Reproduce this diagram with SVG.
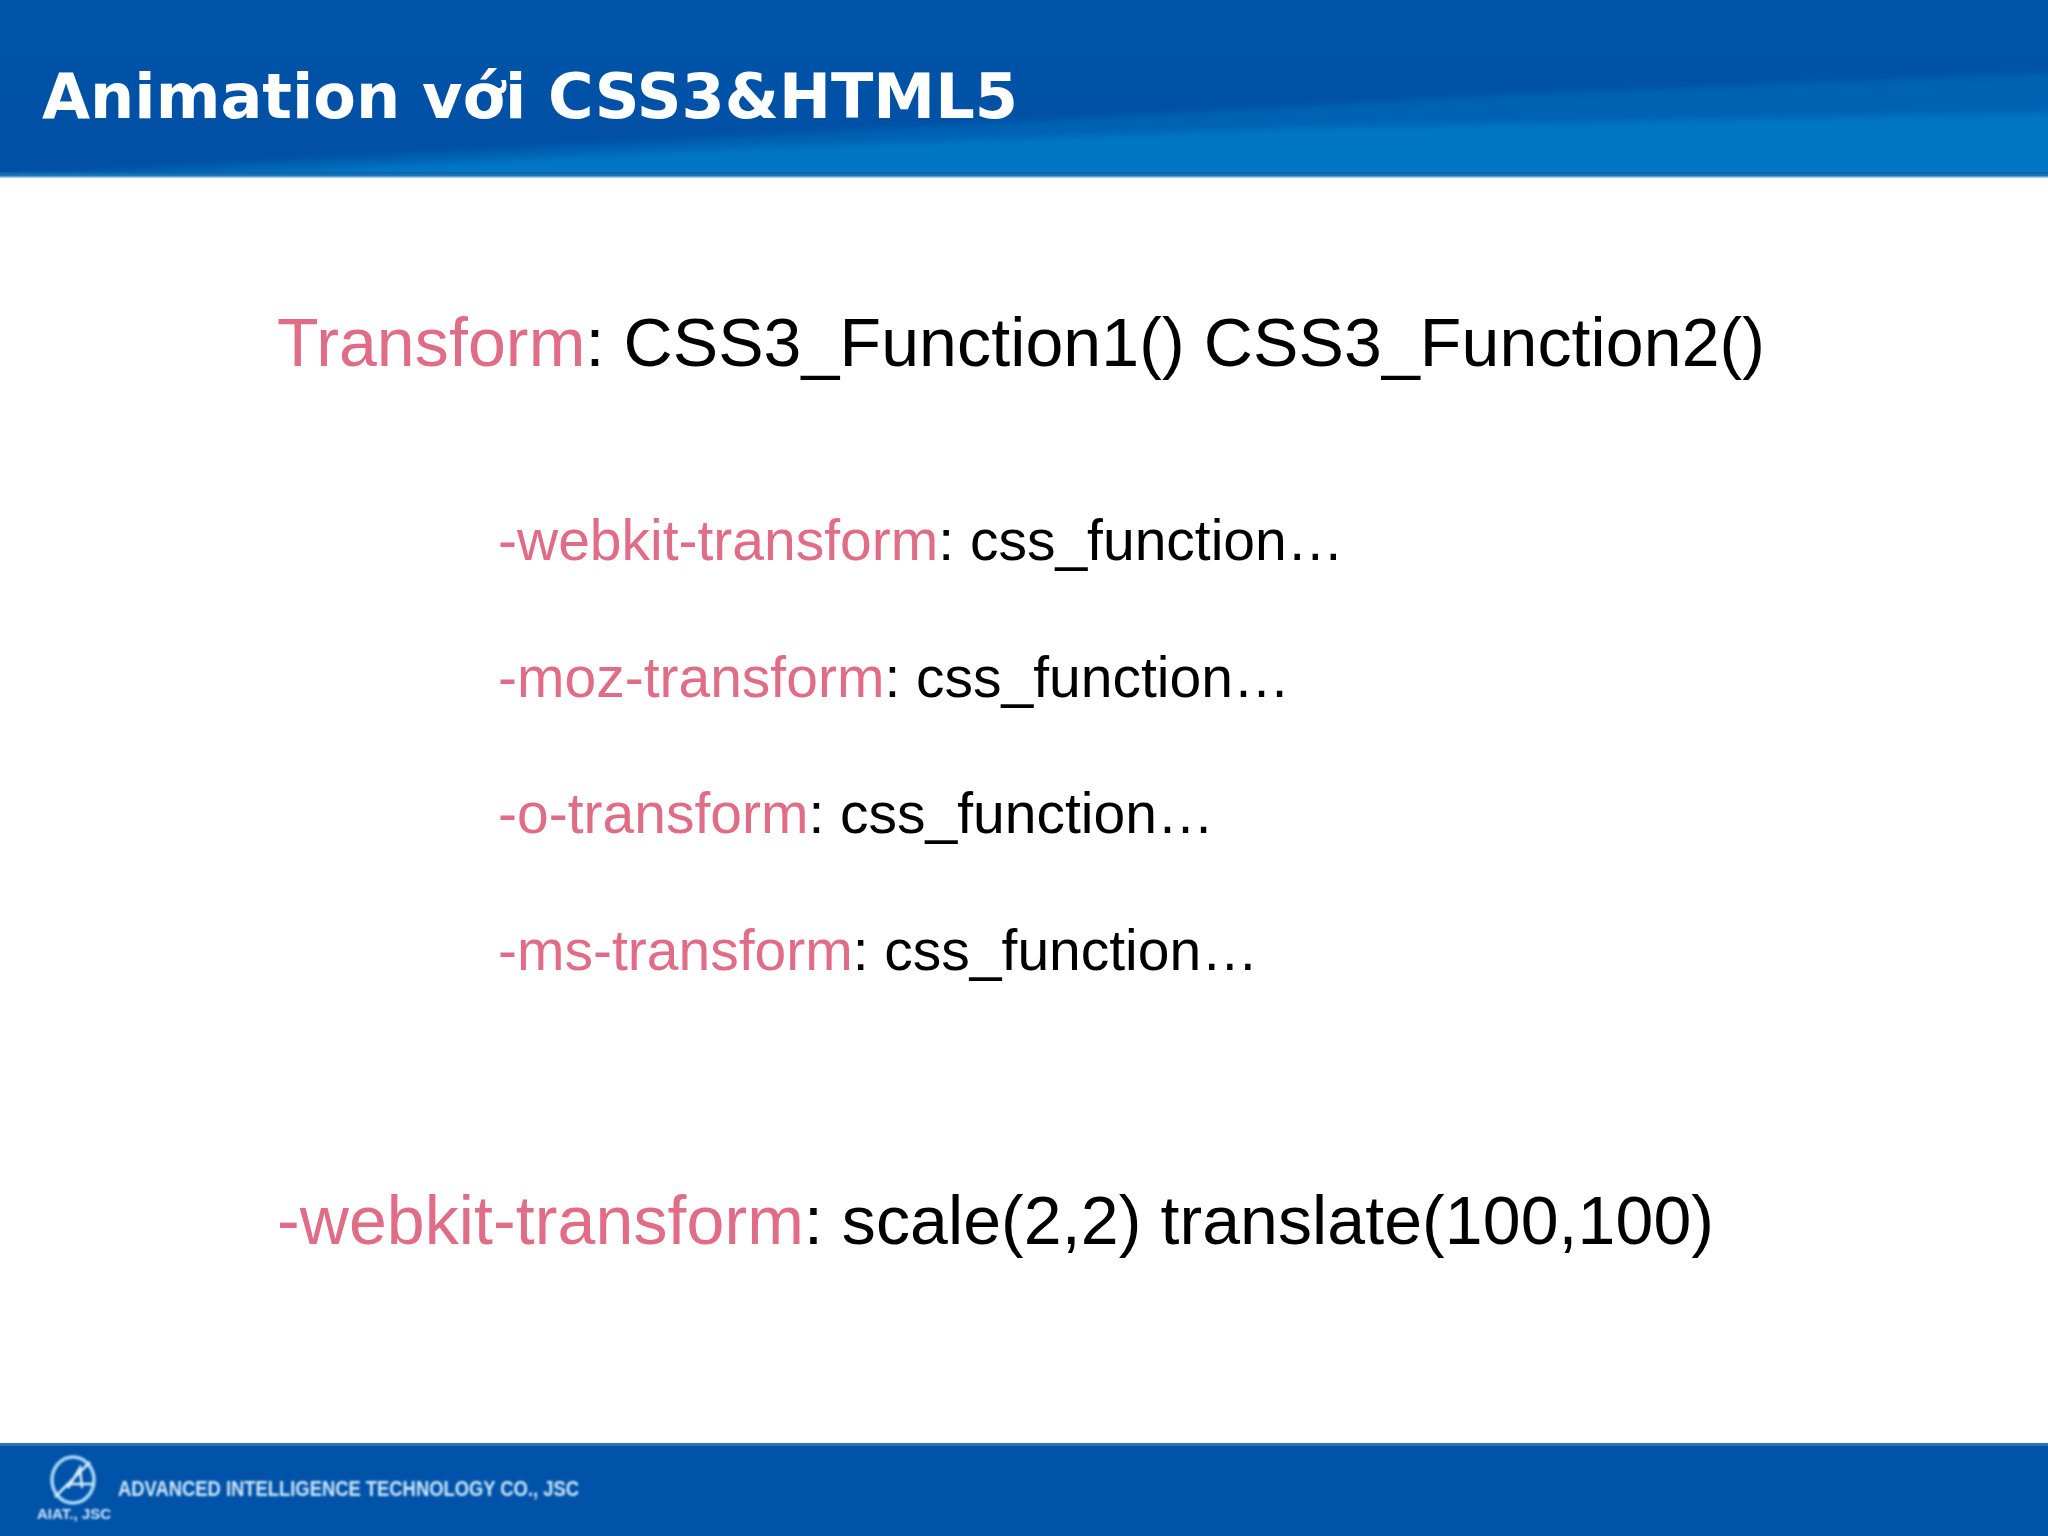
<svg xmlns="http://www.w3.org/2000/svg" width="2048" height="1536" viewBox="0 0 2048 1536">
<defs>
<linearGradient id="hdr" x1="0" y1="0" x2="0" y2="1"><stop offset="0" stop-color="#0054a8"/><stop offset="1" stop-color="#0050a5"/></linearGradient>
<linearGradient id="edge" x1="0" y1="0" x2="0" y2="1"><stop offset="0" stop-color="#0a5f9f"/><stop offset="0.6" stop-color="#1c79bd"/><stop offset="1" stop-color="#bfe3fa"/></linearGradient>
<filter id="soft" x="-5%" y="-20%" width="110%" height="140%"><feGaussianBlur stdDeviation="1.3"/></filter>
<filter id="band" x="-5%" y="-20%" width="110%" height="140%"><feGaussianBlur stdDeviation="3"/></filter>
<clipPath id="hclip"><rect width="2048" height="177"/></clipPath>
</defs>
<style>
.m{font-family:"Liberation Sans",Arial,sans-serif;fill:#000}
.k{fill:#e06c85}
.l{font-size:68px}
.s{font-size:57px}
.f{font-family:"Liberation Sans",Arial,sans-serif;font-weight:bold;fill:#cfe8fb}
</style>
<rect width="2048" height="1536" fill="#fff"/>
<g id="header">
<rect width="2048" height="177" fill="url(#hdr)"/>
<g clip-path="url(#hclip)"><g filter="url(#band)">
<polygon points="0,176 300,160 1000,123 1500,95 2048,73 2120,73 2120,185 0,185" fill="#0062b2"/>
<polygon points="130,178 700,150 1300,128 2048,113 2120,113 2120,185 130,185" fill="#0076c4"/>
</g></g>
<rect y="172" width="2048" height="6" fill="url(#edge)"/>
<text x="42" y="118" font-family="'DejaVu Sans',sans-serif" font-weight="bold" font-size="62" fill="#fff" textLength="976" lengthAdjust="spacingAndGlyphs">Animation với CSS3&amp;HTML5</text>
</g>
<g id="line-transform"><text class="m l" x="277" y="366" textLength="1488"><tspan class="k">Transform</tspan>: CSS3_Function1() CSS3_Function2()</text></g>
<g id="line-webkit"><text class="m s" x="498" y="560"><tspan class="k">-webkit-transform</tspan>: css_function…</text></g>
<g id="line-moz"><text class="m s" x="498" y="697"><tspan class="k">-moz-transform</tspan>: css_function…</text></g>
<g id="line-o"><text class="m s" x="498" y="833"><tspan class="k">-o-transform</tspan>: css_function…</text></g>
<g id="line-ms"><text class="m s" x="498" y="970"><tspan class="k">-ms-transform</tspan>: css_function…</text></g>
<g id="line-example"><text class="m l" x="277" y="1244" textLength="1437"><tspan class="k">-webkit-transform</tspan>: scale(2,2) translate(100,100)</text></g>
<g id="footer">
<rect y="1443" width="2048" height="93" fill="#0053a8"/>
<rect y="1443" width="2048" height="3" fill="#2a75b8"/>
<g filter="url(#soft)">
<ellipse cx="73" cy="1480" rx="21" ry="23" fill="none" stroke="#a9d8f8" stroke-width="3.5"/>
<path d="M55 1497 L90 1462 M68 1488 L80 1468 L82 1488 M68 1484 H93" fill="none" stroke="#d6eefc" stroke-width="2.5"/>
<text class="f" x="37" y="1519" font-size="14" textLength="74" lengthAdjust="spacingAndGlyphs">AIAT., JSC</text>
<text class="f" x="118" y="1496" font-size="22" textLength="461" lengthAdjust="spacingAndGlyphs">ADVANCED INTELLIGENCE TECHNOLOGY CO., JSC</text>
</g>
</g>
</svg>
